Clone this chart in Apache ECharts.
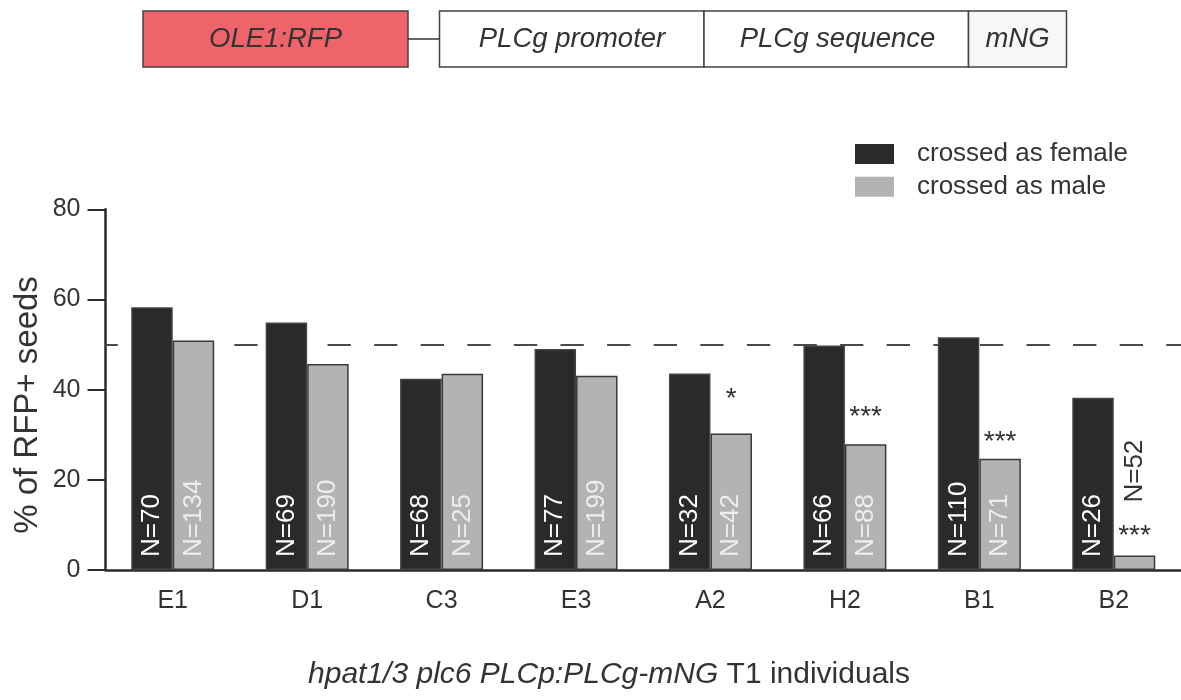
<!DOCTYPE html>
<html>
<head>
<meta charset="utf-8">
<script src="https://cdn.jsdelivr.net/npm/echarts@6/dist/echarts.min.js"></script>
<style>html,body{margin:0;padding:0;background:#fff}#c{width:1181px;height:700px}</style>
</head>
<body>
<div id="c"></div>
<script>
// ---- data ----
var categories = ['E1', 'D1', 'C3', 'E3', 'A2', 'H2', 'B1', 'B2'];
var femaleValues = [58.3, 54.9, 42.4, 49.0, 43.6, 49.8, 51.6, 38.2];
var maleValues = [50.9, 45.7, 43.5, 43.1, 30.3, 27.9, 24.7, 3.2];
var femaleN = [70, 69, 68, 77, 32, 66, 110, 26];
var maleN = [134, 190, 25, 199, 42, 88, 71, 52];
var significance = ['', '', '', '', '*', '***', '***', '***'];
var yTicks = [0, 20, 40, 60, 80];
var referenceLine = 50;
var seriesNames = ['crossed as female', 'crossed as male'];

// ---- styles ----
var FONT = 'Liberation Sans, Arial, Helvetica, sans-serif';
var DARK = '#333333';
var sigLift = [0, 0, 0, 0, 20, 13, 2, 5];
var BAR_W = 41.5;

var nLabelInside = function (color) {
  return {
    show: true, position: 'insideBottom', distance: 13, rotate: 90,
    align: 'left', verticalAlign: 'middle',
    fontFamily: FONT, fontSize: 26, color: color
  };
};

var femaleData = femaleValues.map(function (v, i) {
  return { value: v, label: Object.assign(nLabelInside('#ffffff'), { formatter: 'N=' + femaleN[i] }) };
});
var maleData = maleValues.map(function (v, i) {
  var lab = Object.assign(nLabelInside('#eeeeee'), { formatter: 'N=' + maleN[i] });
  if (v < 10) {
    lab.position = 'top';
    lab.distance = 53;
    lab.color = DARK;
  }
  return { value: v, label: lab };
});
var ghostSig = maleValues.map(function (v, i) {
  return {
    value: v,
    label: { show: significance[i] !== '', formatter: significance[i], distance: sigLift[i] }
  };
});

var chart = echarts.init(document.getElementById('c'), null, { renderer: 'canvas' });
chart.setOption({
  animation: false,
  textStyle: { fontFamily: FONT },
  grid: { left: 105.5, right: -4.5, top: 209.3, bottom: 130 },
  legend: {
    data: seriesNames,
    orient: 'vertical', left: 850, top: 136,
    itemWidth: 39, itemHeight: 20, itemGap: 6.8,
    icon: 'rect',
    itemStyle: { borderWidth: 0 },
    selectedMode: false,
    textStyle: { fontFamily: FONT, fontSize: 26, color: DARK, lineHeight: 20, padding: [0, 0, 0, 18] }
  },
  xAxis: [{
    type: 'category', data: categories,
    axisLine: { lineStyle: { color: '#2b2b2b', width: 2.5 } },
    axisTick: { alignWithLabel: true, length: 17, lineStyle: { color: '#2b2b2b', width: 2 } },
    axisLabel: { fontFamily: FONT, fontSize: 25, color: DARK, margin: 19 }
  }, {
    type: 'category', data: categories, show: false
  }],
  yAxis: {
    type: 'value', min: yTicks[0], max: yTicks[yTicks.length - 1], interval: yTicks[1] - yTicks[0],
    splitLine: { show: false },
    axisLine: { show: true, lineStyle: { color: '#2b2b2b', width: 2.5 } },
    axisTick: { show: true, length: 18, lineStyle: { color: '#2b2b2b', width: 2 } },
    axisLabel: { fontFamily: FONT, fontSize: 25, color: DARK, margin: 25 }
  },
  series: [{
    name: seriesNames[0], type: 'bar', data: femaleData,
    barWidth: BAR_W, barGap: '0%',
    itemStyle: { color: '#2a2a2a', borderColor: '#444444', borderWidth: 1.5 },
    markLine: {
      silent: true, z: 1, symbol: 'none',
      label: { show: false },
      lineStyle: { color: '#4a4a4a', width: 2.2, type: [23.3, 23.3], dashOffset: 11 },
      data: [{ yAxis: referenceLine }]
    }
  }, {
    name: seriesNames[1], type: 'bar', data: maleData,
    barWidth: BAR_W, barGap: '0%',
    itemStyle: { color: '#b3b3b3', borderColor: '#3a3a3a', borderWidth: 1.5 }
  }, {
    name: 'ghostF', type: 'bar', xAxisIndex: 1, data: femaleValues,
    barWidth: BAR_W, barGap: '0%', silent: true,
    itemStyle: { color: 'rgba(0,0,0,0)' }
  }, {
    name: 'ghostM', type: 'bar', xAxisIndex: 1, data: ghostSig,
    barWidth: BAR_W, barGap: '0%', silent: true,
    itemStyle: { color: 'rgba(0,0,0,0)' },
    label: { position: 'top', fontFamily: FONT, fontSize: 28, color: DARK }
  }],
  graphic: [
    { type: 'rect', shape: { x: 143, y: 11, width: 265, height: 56 },
      style: { fill: '#ef636a', stroke: '#444', lineWidth: 1.5 } },
    { type: 'line', shape: { x1: 408, y1: 39, x2: 439.5, y2: 39 },
      style: { stroke: '#333', lineWidth: 1.5 } },
    { type: 'rect', shape: { x: 439.5, y: 11, width: 264.5, height: 56 },
      style: { fill: '#ffffff', stroke: '#444', lineWidth: 1.5 } },
    { type: 'rect', shape: { x: 704, y: 11, width: 264.5, height: 56 },
      style: { fill: '#ffffff', stroke: '#444', lineWidth: 1.5 } },
    { type: 'rect', shape: { x: 968.5, y: 11, width: 98, height: 56 },
      style: { fill: '#f7f7f7', stroke: '#444', lineWidth: 1.5 } },
    { type: 'text', x: 275.5, y: 39,
      style: { text: 'OLE1:RFP', font: 'italic 27.5px ' + FONT, fill: DARK, align: 'center', verticalAlign: 'middle' } },
    { type: 'text', x: 572, y: 39,
      style: { text: 'PLCg promoter', font: 'italic 27.5px ' + FONT, fill: DARK, align: 'center', verticalAlign: 'middle' } },
    { type: 'text', x: 837.5, y: 39,
      style: { text: 'PLCg sequence', font: 'italic 27.5px ' + FONT, fill: DARK, align: 'center', verticalAlign: 'middle' } },
    { type: 'text', x: 1017.5, y: 39,
      style: { text: 'mNG', font: 'italic 27.5px ' + FONT, fill: DARK, align: 'center', verticalAlign: 'middle' } },
    { type: 'text', x: 28, y: 405, rotation: Math.PI / 2,
      style: { text: '% of RFP+ seeds', font: '33px ' + FONT, fill: DARK, align: 'center', verticalAlign: 'middle' } },
    { type: 'text', x: 609, y: 675,
      style: {
        text: '{i|hpat1/3 plc6 PLCp:PLCg-mNG} T1 individuals',
        fontFamily: FONT, fontSize: 30, fill: DARK, align: 'center', verticalAlign: 'middle',
        rich: { i: { fontFamily: FONT, fontSize: 30, fontStyle: 'italic', fill: DARK } }
      } }
  ]
});
</script>
</body>
</html>
